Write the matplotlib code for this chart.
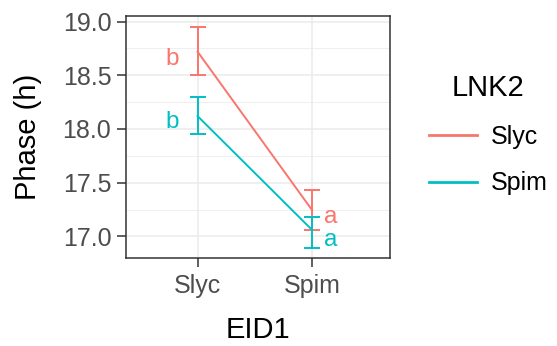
import matplotlib
matplotlib.use("Agg")
import matplotlib.pyplot as plt
from matplotlib.ticker import MultipleLocator, FormatStrFormatter

plt.rcParams['font.family'] = ['Liberation Sans', 'DejaVu Sans']

# data
eid1 = ["Slyc", "Spim"]
lnk2 = ["Slyc", "Spim"]
phase = {"Slyc": [18.72, 17.245], "Spim": [18.12, 17.06]}
err_hi = {"Slyc": [18.95, 17.43], "Spim": [18.30, 17.18]}
err_lo = {"Slyc": [18.50, 17.06], "Spim": [17.95, 16.89]}
letters = {"Slyc": ["b", "a"], "Spim": ["b", "a"]}
letter_y = {"Slyc": [18.593, 17.121], "Spim": [18.005, 16.913]}
letter_x = [0.776, 2.163]

colors = {"Slyc": "#F8766D", "Spim": "#00BFC4"}

fig = plt.figure(figsize=(5.57, 3.46), dpi=100)
ax = fig.add_axes([0.226, 0.254, 0.474, 0.700])

xs = [1, 2]
for g in lnk2:
    c = colors[g]
    ax.plot(xs, phase[g], color=c, lw=1.4, label=g, zorder=3)
    ax.vlines(xs, err_lo[g], err_hi[g], color=c, lw=1.4, zorder=3)
    for x, lo, hi in zip(xs, err_lo[g], err_hi[g]):
        ax.hlines([lo, hi], x - 0.07, x + 0.07, color=c, lw=1.4, zorder=3)
    for x, t, y in zip(letter_x, letters[g], letter_y[g]):
        ax.text(x, y, t, color=c, fontsize=17.5, ha="center", va="baseline")

ax.set_xlim(0.374, 2.68)
ax.set_ylim(16.7975, 19.0525)
ax.set_xticks(xs)
ax.set_xticklabels(eid1)
ax.yaxis.set_major_locator(MultipleLocator(0.5))
ax.yaxis.set_minor_locator(MultipleLocator(0.25))
ax.yaxis.set_major_formatter(FormatStrFormatter("%.1f"))

ax.grid(True, which="major", color="#EBEBEB", lw=1.1, zorder=0)
ax.grid(True, which="minor", axis="y", color="#EBEBEB", lw=0.55, zorder=0)
ax.set_axisbelow(True)
for s in ax.spines.values():
    s.set_color("#333333")
    s.set_linewidth(1.1)

ax.tick_params(which="major", length=6.5, width=1.1, color="#333333",
               labelsize=18, labelcolor="#4D4D4D")
ax.tick_params(axis="x", pad=5)
ax.tick_params(axis="y", pad=4)
ax.tick_params(which="minor", length=0)

ax.set_xlabel("EID1", fontsize=21, labelpad=13)
ax.set_ylabel("Phase (h)", fontsize=21, labelpad=15)

leg = fig.legend(loc="center left", bbox_to_anchor=(0.730, 0.61), frameon=False,
                 fontsize=18, title="LNK2", title_fontsize=21,
                 handlelength=1.9, labelspacing=0.9, handletextpad=0.56)
for line in leg.get_lines():
    line.set_linewidth(2)

fig.savefig("out.png", dpi=100)
